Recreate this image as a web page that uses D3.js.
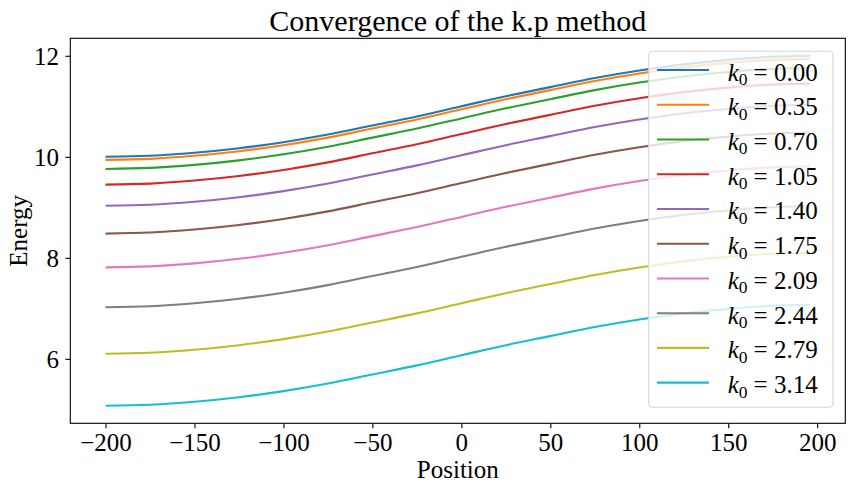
<!DOCTYPE html>
<html>
<head>
<meta charset="utf-8">
<script src="https://cdn.jsdelivr.net/npm/d3@7"></script>
<style>
  html, body { margin: 0; padding: 0; background: #fff; }
  svg { display: block; font-family: "Liberation Serif", "DejaVu Serif", serif; }
  .tick text { font-size: 25px; fill: #000; }
</style>
</head>
<body>
<div id="chart"></div>
<script>
// Position samples along the curves
const positions = [-200, -175, -150, -125, -100, -75, -50, -25, 0, 25, 50, 75, 100, 125, 150, 175, 196];

// k0 values for the legend
const kLabels = ["0.00", "0.35", "0.70", "1.05", "1.40", "1.75", "2.09", "2.44", "2.79", "3.14"];

// Energy at the positions above
const energyK000 = [10.00, 10.02, 10.08, 10.17, 10.29, 10.44, 10.62, 10.80, 11.00, 11.20, 11.38, 11.56, 11.71, 11.83, 11.92, 11.98, 12.00];
const energyK035 = [9.94, 9.96, 10.02, 10.11, 10.23, 10.38, 10.56, 10.74, 10.94, 11.14, 11.32, 11.50, 11.65, 11.77, 11.86, 11.92, 11.94];
const energyK070 = [9.76, 9.78, 9.84, 9.93, 10.05, 10.20, 10.38, 10.56, 10.76, 10.96, 11.14, 11.32, 11.47, 11.59, 11.68, 11.74, 11.76];
const energyK105 = [9.45, 9.47, 9.53, 9.62, 9.74, 9.89, 10.07, 10.25, 10.45, 10.65, 10.83, 11.01, 11.16, 11.28, 11.37, 11.43, 11.45];
const energyK140 = [9.03, 9.05, 9.11, 9.20, 9.32, 9.47, 9.65, 9.83, 10.03, 10.23, 10.41, 10.59, 10.74, 10.86, 10.95, 11.01, 11.03];
const energyK175 = [8.48, 8.50, 8.56, 8.65, 8.77, 8.92, 9.10, 9.28, 9.48, 9.68, 9.86, 10.04, 10.19, 10.31, 10.40, 10.46, 10.48];
const energyK209 = [7.81, 7.83, 7.89, 7.98, 8.10, 8.25, 8.43, 8.61, 8.81, 9.01, 9.19, 9.37, 9.52, 9.64, 9.73, 9.79, 9.81];
const energyK244 = [7.02, 7.04, 7.10, 7.19, 7.31, 7.46, 7.64, 7.82, 8.02, 8.22, 8.40, 8.58, 8.73, 8.85, 8.94, 9.00, 9.02];
const energyK279 = [6.10, 6.12, 6.18, 6.27, 6.39, 6.54, 6.72, 6.90, 7.10, 7.30, 7.48, 7.66, 7.81, 7.93, 8.02, 8.08, 8.10];
const energyK314 = [5.07, 5.09, 5.15, 5.24, 5.36, 5.51, 5.69, 5.87, 6.07, 6.27, 6.45, 6.63, 6.78, 6.90, 6.99, 7.05, 7.07];

const xTicks = [-200, -150, -100, -50, 0, 50, 100, 150, 200];
const yTicks = [6, 8, 10, 12];

const energies = [energyK000, energyK035, energyK070, energyK105, energyK140,
                  energyK175, energyK209, energyK244, energyK279, energyK314];
const colors = d3.schemeCategory10;

const W = 855, H = 493;
const m = { left: 70.3, right: 845.3, top: 38.3, bottom: 423.3 };

const svg = d3.select('#chart').append('svg')
  .attr('width', W).attr('height', H)
  .attr('viewBox', `0 0 ${W} ${H}`);

// matplotlib style 5% margins
const xExt = d3.extent(positions);
const xPad = (xExt[1] - xExt[0]) * 0.05;
const yExt = d3.extent(energies.flat());
const yPad = (yExt[1] - yExt[0]) * 0.05;

const x = d3.scaleLinear().domain([xExt[0] - xPad, xExt[1] + xPad]).range([m.left, m.right]);
const y = d3.scaleLinear().domain([yExt[0] - yPad, yExt[1] + yPad]).range([m.bottom, m.top]);

// axes
const xAxis = svg.append('g')
  .attr('transform', `translate(0,${m.bottom})`)
  .call(d3.axisBottom(x).tickValues(xTicks).tickSize(4.9).tickPadding(4.5));
const yAxis = svg.append('g')
  .attr('transform', `translate(${m.left},0)`)
  .call(d3.axisLeft(y).tickValues(yTicks).tickSize(4.9).tickPadding(6.5).tickFormat(d3.format('d')));

[xAxis, yAxis].forEach(a => {
  a.select('.domain').remove();
  a.selectAll('.tick line').attr('stroke', '#000').attr('stroke-width', 1.1);
  a.selectAll('.tick text').attr('font-family', '"Liberation Serif", serif');
});
xAxis.selectAll('.tick text').attr('dy', null).attr('y', 27.5);
yAxis.selectAll('.tick text').attr('dy', null).attr('y', 8.8);

// curves
const line = d3.line()
  .x((d, i) => x(positions[i]))
  .y(d => y(d))
  .curve(d3.curveMonotoneX);

svg.append('g').selectAll('path')
  .data(energies)
  .enter()
  .append('path')
  .attr('d', d => line(d))
  .attr('fill', 'none')
  .attr('stroke', (d, i) => colors[i])
  .attr('stroke-width', 2.1);

// frame
svg.append('rect')
  .attr('x', m.left).attr('y', m.top)
  .attr('width', m.right - m.left).attr('height', m.bottom - m.top)
  .attr('fill', 'none').attr('stroke', '#000').attr('stroke-width', 1.1);

// title + labels
svg.append('text')
  .attr('x', (m.left + m.right) / 2).attr('y', 30.5)
  .attr('text-anchor', 'middle').attr('font-size', 30)
  .text('Convergence of the k.p method');

svg.append('text')
  .attr('x', (m.left + m.right) / 2).attr('y', 478)
  .attr('text-anchor', 'middle').attr('font-size', 25)
  .text('Position');

svg.append('text')
  .attr('transform', `translate(26.5,${(m.top + m.bottom) / 2}) rotate(-90)`)
  .attr('text-anchor', 'middle').attr('font-size', 25)
  .text('Energy');

// legend
const lg = { x0: 648.7, y0: 51.3, x1: 833, y1: 407.3, row0: 70, step: 34.74 };
const legend = svg.append('g');
legend.append('rect')
  .attr('x', lg.x0).attr('y', lg.y0)
  .attr('width', lg.x1 - lg.x0).attr('height', lg.y1 - lg.y0)
  .attr('rx', 4).attr('ry', 4)
  .attr('fill', 'rgba(255,255,255,0.8)')
  .attr('stroke', '#d5d5d5').attr('stroke-width', 1.1);

kLabels.forEach((k, i) => {
  const cy = lg.row0 + i * lg.step;
  legend.append('line')
    .attr('x1', 657).attr('x2', 709)
    .attr('y1', cy).attr('y2', cy)
    .attr('stroke', colors[i]).attr('stroke-width', 2.1);
  const t = legend.append('text')
    .attr('x', 727.7).attr('y', cy + 10.5)
    .attr('font-size', 25);
  t.append('tspan').attr('font-style', 'italic').text('k');
  t.append('tspan').attr('font-size', 17.5).attr('dy', 4.5).text('0');
  t.append('tspan').attr('dy', -4.5).attr('dx', 6).text('= ' + k);
});
</script>
</body>
</html>
